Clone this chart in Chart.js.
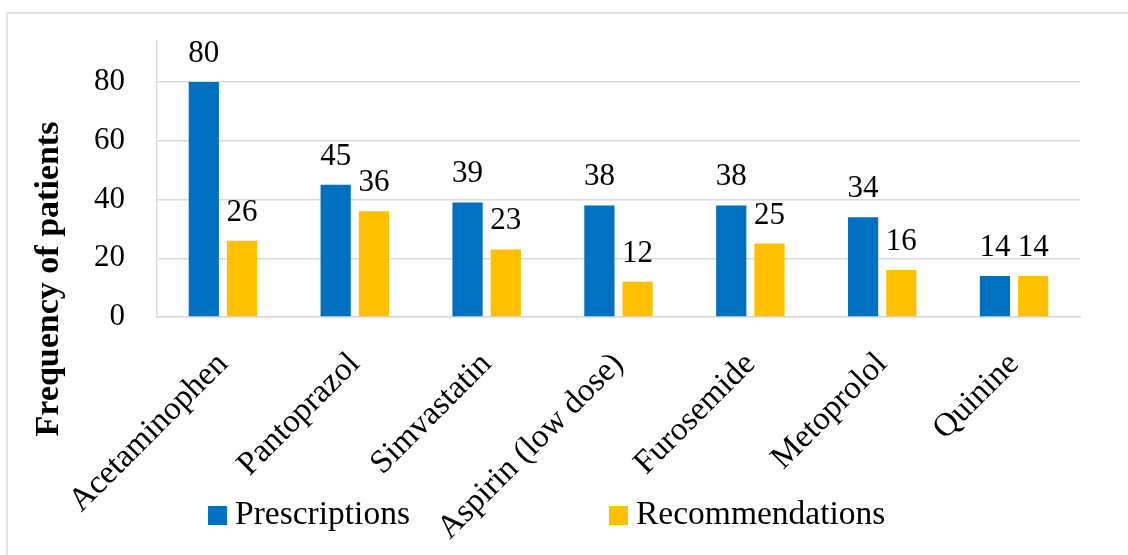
<!DOCTYPE html>
<html>
<head>
<meta charset="utf-8">
<title>Frequency of patients</title>
<script src="https://cdn.jsdelivr.net/npm/chart.js@4/dist/chart.umd.min.js"></script>
<style>
  html, body { margin: 0; padding: 0; background: #ffffff; }
  canvas { display: block; }
</style>
</head>
<body>
<canvas id="chart" width="1128" height="555"></canvas>
<script>
// Drugs and how many patients had them prescribed vs. recommended
const drugs = ['Acetaminophen', 'Pantoprazol', 'Simvastatin', 'Aspirin (low dose)', 'Furosemide', 'Metoprolol', 'Quinine'];
const prescriptions = [80, 45, 39, 38, 38, 34, 14];
const recommendations = [26, 36, 23, 12, 25, 16, 14];
const yTickValues = [0, 20, 40, 60, 80];
const seriesNames = ['Prescriptions', 'Recommendations'];
const yAxisTitle = 'Frequency of patients';

const SERIF = "'Liberation Serif', 'Times New Roman', serif";
const BLUE = '#0070C0';
const GOLD = '#FFC000';
const RULE = '#d9d9d9';

// Light frame around the whole figure
const framePlugin = {
  id: 'frame',
  beforeDraw(chart) {
    const ctx = chart.ctx;
    ctx.save();
    ctx.fillStyle = '#ffffff';
    ctx.fillRect(0, 0, chart.width, chart.height);
    ctx.strokeStyle = RULE;
    ctx.lineWidth = 1.5;
    ctx.strokeRect(7, 13, chart.width + 20, chart.height + 20);
    ctx.restore();
  }
};

// Value printed above each bar
const valueLabelPlugin = {
  id: 'valueLabels',
  afterDatasetsDraw(chart) {
    const ctx = chart.ctx;
    ctx.save();
    ctx.font = '31px ' + SERIF;
    ctx.fillStyle = '#000000';
    ctx.textAlign = 'center';
    ctx.textBaseline = 'alphabetic';
    chart.data.datasets.forEach((ds, di) => {
      const meta = chart.getDatasetMeta(di);
      meta.data.forEach((bar, i) => {
        ctx.fillText(String(ds.data[i]), bar.x, bar.y - 20);
      });
    });
    ctx.restore();
  }
};

// Rotated bold title for the value axis
const yTitlePlugin = {
  id: 'yTitle',
  afterDraw(chart) {
    const ctx = chart.ctx;
    ctx.save();
    ctx.translate(49, 279);
    ctx.rotate(-Math.PI / 2);
    ctx.font = 'bold 34px ' + SERIF;
    ctx.fillStyle = '#000000';
    ctx.textAlign = 'center';
    ctx.textBaseline = 'middle';
    ctx.fillText(yAxisTitle, 0, 0);
    ctx.restore();
  }
};

// Legend row along the bottom, overlapping the label band
const legendRowPlugin = {
  id: 'legendRow',
  afterDraw(chart) {
    const ctx = chart.ctx;
    const starts = [208, 609];
    const baseline = 524;
    const box = 19;
    ctx.save();
    ctx.font = '33.5px ' + SERIF;
    ctx.textBaseline = 'alphabetic';
    ctx.textAlign = 'left';
    chart.data.datasets.forEach((ds, i) => {
      const x = starts[i];
      ctx.fillStyle = ds.backgroundColor;
      ctx.fillRect(x, baseline - 18, box, box);
      ctx.fillStyle = '#000000';
      ctx.fillText(ds.label, x + box + 8, baseline);
    });
    ctx.restore();
  }
};

new Chart(document.getElementById('chart'), {
  type: 'bar',
  data: {
    labels: drugs,
    datasets: [
      { label: seriesNames[0], data: prescriptions, backgroundColor: BLUE, borderWidth: 0 },
      { label: seriesNames[1], data: recommendations, backgroundColor: GOLD, borderWidth: 0 }
    ]
  },
  options: {
    responsive: false,
    animation: false,
    events: [],
    layout: { padding: { left: 0, top: 41, right: 48, bottom: 0 } },
    datasets: {
      bar: { categoryPercentage: 0.58, barPercentage: 0.79 }
    },
    plugins: {
      legend: { display: false },
      tooltip: { enabled: false },
      title: { display: false }
    },
    scales: {
      x: {
        grid: { display: false, drawTicks: false },
        border: { display: true, color: RULE, width: 1.5 },
        ticks: {
          autoSkip: false,
          minRotation: 45,
          maxRotation: 45,
          padding: 28,
          color: '#000000',
          font: { family: SERIF, size: 33 }
        },
        afterFit(scale) { scale.height = 238; }
      },
      y: {
        min: 0,
        max: 94,
        grid: { color: RULE, lineWidth: 1.5, drawTicks: false },
        border: { display: true, color: RULE, width: 1.5 },
        ticks: {
          padding: 32,
          color: '#000000',
          font: { family: SERIF, size: 31 }
        },
        afterBuildTicks(scale) { scale.ticks = yTickValues.map(v => ({ value: v })); },
        afterFit(scale) {
          // fixed gutter for the tick labels; the top/bottom label overhang is not needed
          scale.width = 157;
          scale.paddingTop = 0;
          scale.paddingBottom = 0;
        }
      }
    }
  },
  plugins: [framePlugin, valueLabelPlugin, yTitlePlugin, legendRowPlugin]
});
</script>
</body>
</html>
